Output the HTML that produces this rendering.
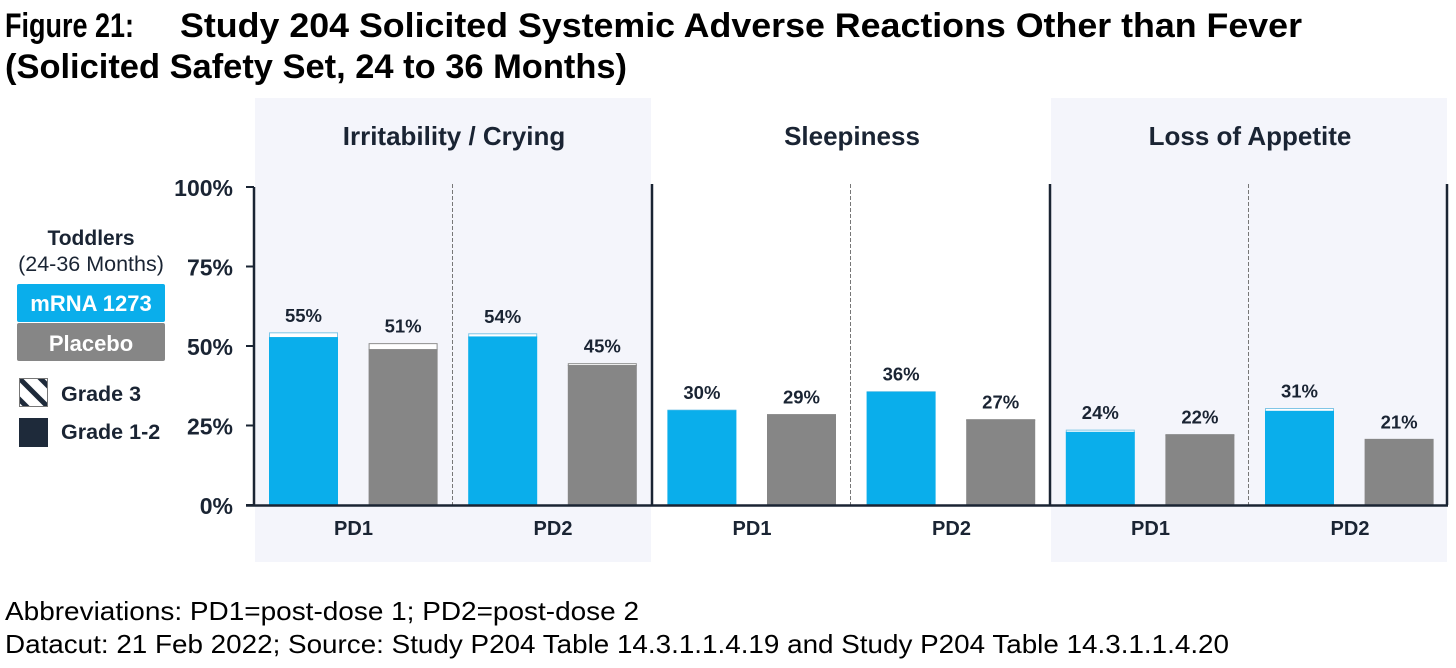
<!DOCTYPE html>
<html>
<head>
<meta charset="utf-8">
<style>
html,body{margin:0;padding:0;background:#fff;width:1456px;height:668px;overflow:hidden}
svg{display:block}
text{font-family:"Liberation Sans",sans-serif}
</style>
</head>
<body>
<svg id="chart" xmlns="http://www.w3.org/2000/svg" width="1456" height="668" viewBox="0 0 1456 668">
  <defs>
    <pattern id="hatch" width="21" height="21" patternUnits="userSpaceOnUse" patternTransform="translate(20 379)">
      <rect width="21" height="21" fill="#fff"/>
      <path d="M-4 -4L25 25M-4 17L4 25M17 -4L25 4" stroke="#1e2a3a" stroke-width="5"/>
    </pattern>
  </defs>
  <text x="5" y="37" font-size="34.500" font-weight="700" fill="#000" textLength="129" lengthAdjust="spacingAndGlyphs">Figure 21:</text>
  <text x="180" y="37" font-size="34.500" font-weight="700" fill="#000" textLength="1122" lengthAdjust="spacingAndGlyphs">Study 204 Solicited Systemic Adverse Reactions Other than Fever</text>
  <text x="5" y="78" font-size="34.500" font-weight="700" fill="#000" textLength="622" lengthAdjust="spacingAndGlyphs">(Solicited Safety Set, 24 to 36 Months)</text>

  <text x="91" y="245" font-size="21" font-weight="700" fill="#1a2433" text-anchor="middle">Toddlers</text>
  <text x="91" y="271" font-size="21.500" fill="#1a2433" text-anchor="middle">(24-36 Months)</text>
  <rect x="17" y="284" width="148" height="38" rx="2" fill="#0aaeeb"/>
  <text x="91" y="311" font-size="22" font-weight="700" fill="#fff" text-anchor="middle">mRNA 1273</text>
  <rect x="17" y="323" width="148" height="38" rx="2" fill="#868686"/>
  <text x="91" y="351" font-size="22" font-weight="700" fill="#fff" text-anchor="middle">Placebo</text>
  <rect x="19.500" y="378.500" width="28" height="28" fill="url(#hatch)" stroke="#777" stroke-width="1"/>
  <text x="61" y="401" font-size="21.500" font-weight="700" fill="#1a2433">Grade 3</text>
  <rect x="19" y="418" width="29" height="29" fill="#1e2a3a"/>
  <text x="61" y="439" font-size="21.500" font-weight="700" fill="#1a2433">Grade 1-2</text>

  <g id="plot"></g>

  <text x="5" y="620" font-size="26" fill="#000" textLength="634" lengthAdjust="spacingAndGlyphs">Abbreviations: PD1=post-dose 1; PD2=post-dose 2</text>
  <text x="5" y="653" font-size="26" fill="#000" textLength="1224" lengthAdjust="spacingAndGlyphs">Datacut: 21 Feb 2022; Source: Study P204 Table 14.3.1.1.4.19 and Study P204 Table 14.3.1.1.4.20</text>
</svg>
<script>
const panels = ['Irritability / Crying', 'Sleepiness', 'Loss of Appetite'];
const doses = ['PD1', 'PD2'];
const yTicks = [0, 25, 50, 75, 100];
const totalValues = [54.3, 50.9, 54, 44.6, 30, 28.6, 35.8, 27, 23.7, 22.3, 30.5, 20.8];
const grade12Values = [52.8, 49, 53, 44, 29.8, 28.4, 35.6, 26.8, 23, 22, 29.6, 20.8];
const printedLabels = ['55%', '51%', '54%', '45%', '30%', '29%', '36%', '27%', '24%', '22%', '31%', '21%'];

const NS = 'http://www.w3.org/2000/svg';
const plot = document.getElementById('plot');
const Y0 = 505, YSCALE = 3.18;
const PANEL_X0 = 254, PANEL_W = 398;
const yOf = v => Y0 - v * YSCALE;
const panelX = p => PANEL_X0 + p * PANEL_W;
const barX = i => 269 + i * 99.6;
const BAR_W = 69;
const INK = '#1a2433';

function make(tag, props, text) {
  const el = document.createElementNS(NS, tag);
  for (const k in props) el.setAttribute(k, props[k]);
  if (text !== undefined) el.textContent = text;
  plot.appendChild(el);
  return el;
}

panels.forEach((name, p) => {
  if (p % 2 === 0) {
    const bg = make('rect', {x: panelX(p) + 1, y: 98, width: PANEL_W - 2, height: 464, fill: '#f4f5fb'});
    
    
  }
  const title = make('text', {x: panelX(p) + PANEL_W / 2 + 1, y: 145, 'font-size': 26, 'font-weight': 700, fill: INK, 'text-anchor': 'middle'}, name);
  
  
  const divider = make('line', {x1: panelX(p) + 198.5, x2: panelX(p) + 198.5, y1: 184, y2: Y0, stroke: '#777', 'stroke-width': 1, 'stroke-dasharray': '4 2'});
  
  
  doses.forEach((d, j) => {
    const lab = make('text', {x: panelX(p) + 99.5 + p * 0.5 + j * 199.5, y: 535, 'font-size': 20, 'font-weight': 700, fill: INK, 'text-anchor': 'middle'}, d);
    
    
  });
});

for (let p = 0; p <= panels.length; p++) {
  const ax = make('line', {x1: panelX(p) - (p === 3 ? 1 : 0), x2: panelX(p) - (p === 3 ? 1 : 0), y1: p === 0 ? 187 : 184, y2: Y0, stroke: INK, 'stroke-width': 2.500});
  
  
}

yTicks.forEach(t => {
  const tick = make('line', {x1: 246, x2: 254, y1: yOf(t), y2: yOf(t), stroke: INK, 'stroke-width': 2});
  
  
  const lab = make('text', {x: 233, y: yOf(t) + 9, 'font-size': 23, 'font-weight': 700, fill: INK, 'text-anchor': 'end'}, t + '%');
  
  
});

totalValues.forEach((total, i) => {
  const g12 = grade12Values[i];
  const isMrna = i % 2 === 0;
  const color = isMrna ? '#0aaeeb' : '#868686';
  const edge = isMrna ? '#7fc6e6' : '#8e8e8e';
  const x = barX(i);
  const top = make('rect', {x: x + 0.5, y: yOf(total) + 0.5, width: BAR_W - 1, height: Math.max(0, (total - g12) * YSCALE), fill: '#fff', stroke: edge, 'stroke-width': 1});
  
  
  const bar = make('rect', {x: x, y: yOf(g12), width: BAR_W, height: g12 * YSCALE, fill: color});
  
  
  const lab = make('text', {x: x + BAR_W / 2, y: yOf(total) - 10.5, 'font-size': 18.500, 'font-weight': 700, fill: INK, 'text-anchor': 'middle'}, printedLabels[i]);
  
  
});

const base = make('line', {x1: PANEL_X0 - 8, x2: panelX(3), y1: Y0 + 0.5, y2: Y0 + 0.5, stroke: INK, 'stroke-width': 2.500});


</script>
</body>
</html>
